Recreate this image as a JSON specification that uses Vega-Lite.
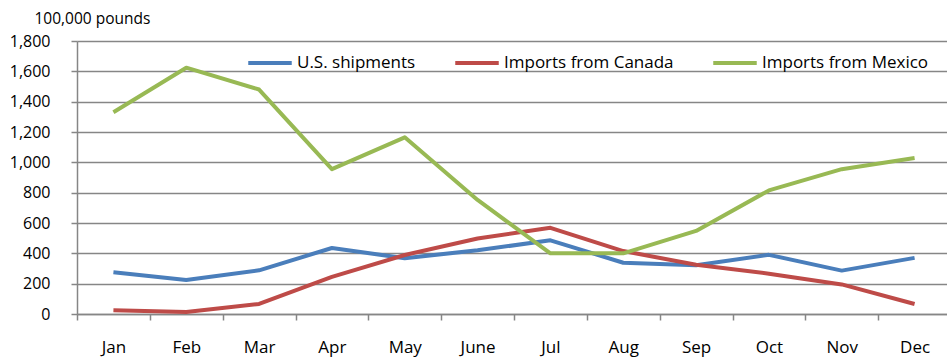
{
  "$schema": "https://vega.github.io/schema/vega-lite/v6.json",
  "width": 874,
  "height": 273,
  "autosize": "none",
  "padding": {"left": 77, "top": 41, "right": 0, "bottom": 46},
  "background": "white",
  "config": {
    "view": {"stroke": null},
    "font": "Open Sans",
    "axis": {"labelFont": "Open Sans", "titleFont": "Open Sans", "labelColor": "#000", "titleColor": "#000"}
  },
  "data": {
    "values": [
      {"month": "Jan", "series": "U.S. shipments", "value": 275},
      {"month": "Feb", "series": "U.S. shipments", "value": 224},
      {"month": "Mar", "series": "U.S. shipments", "value": 288},
      {"month": "Apr", "series": "U.S. shipments", "value": 435},
      {"month": "May", "series": "U.S. shipments", "value": 368},
      {"month": "June", "series": "U.S. shipments", "value": 420},
      {"month": "Jul", "series": "U.S. shipments", "value": 486},
      {"month": "Aug", "series": "U.S. shipments", "value": 338},
      {"month": "Sep", "series": "U.S. shipments", "value": 322},
      {"month": "Oct", "series": "U.S. shipments", "value": 390},
      {"month": "Nov", "series": "U.S. shipments", "value": 286},
      {"month": "Dec", "series": "U.S. shipments", "value": 370},
      {"month": "Jan", "series": "Imports from Canada", "value": 24},
      {"month": "Feb", "series": "Imports from Canada", "value": 13},
      {"month": "Mar", "series": "Imports from Canada", "value": 66},
      {"month": "Apr", "series": "Imports from Canada", "value": 245},
      {"month": "May", "series": "Imports from Canada", "value": 389},
      {"month": "June", "series": "Imports from Canada", "value": 498},
      {"month": "Jul", "series": "Imports from Canada", "value": 568},
      {"month": "Aug", "series": "Imports from Canada", "value": 415},
      {"month": "Sep", "series": "Imports from Canada", "value": 325},
      {"month": "Oct", "series": "Imports from Canada", "value": 266},
      {"month": "Nov", "series": "Imports from Canada", "value": 195},
      {"month": "Dec", "series": "Imports from Canada", "value": 66},
      {"month": "Jan", "series": "Imports from Mexico", "value": 1330},
      {"month": "Feb", "series": "Imports from Mexico", "value": 1624},
      {"month": "Mar", "series": "Imports from Mexico", "value": 1480},
      {"month": "Apr", "series": "Imports from Mexico", "value": 955},
      {"month": "May", "series": "Imports from Mexico", "value": 1165},
      {"month": "June", "series": "Imports from Mexico", "value": 752},
      {"month": "Jul", "series": "Imports from Mexico", "value": 400},
      {"month": "Aug", "series": "Imports from Mexico", "value": 400},
      {"month": "Sep", "series": "Imports from Mexico", "value": 548},
      {"month": "Oct", "series": "Imports from Mexico", "value": 815},
      {"month": "Nov", "series": "Imports from Mexico", "value": 955},
      {"month": "Dec", "series": "Imports from Mexico", "value": 1028}
    ]
  },
  "mark": {"type": "line", "strokeWidth": 4, "strokeJoin": "round", "strokeCap": "butt"},
  "encoding": {
    "x": {
      "field": "month",
      "type": "ordinal",
      "sort": ["Jan", "Feb", "Mar", "Apr", "May", "June", "Jul", "Aug", "Sep", "Oct", "Nov", "Dec"],
      "scale": {"type": "band", "paddingInner": 0, "paddingOuter": 0},
      "axis": {
        "title": null,
        "labelAngle": 0,
        "labelFontSize": 17,
        "labelPadding": 19,
        "domainColor": "#868686",
        "domainWidth": 1.5,
        "tickColor": "#868686",
        "tickWidth": 1.5,
        "tickSize": 6,
        "tickBand": "extent",
        "grid": false
      }
    },
    "y": {
      "field": "value",
      "type": "quantitative",
      "scale": {"domain": [0, 1800], "nice": false},
      "axis": {
        "values": [0, 200, 400, 600, 800, 1000, 1200, 1400, 1600, 1800],
        "format": ",d",
        "labelFontSize": 16,
        "labelPadding": 21,
        "domainColor": "#868686",
        "domainWidth": 1.5,
        "tickColor": "#868686",
        "tickWidth": 1.5,
        "tickSize": 6,
        "grid": true,
        "gridColor": "#868686",
        "gridWidth": 1.5,
        "title": "100,000 pounds",
        "titleAngle": 0,
        "titleFontSize": 15.5,
        "titleFontWeight": "normal",
        "titleAlign": "left",
        "titleBaseline": "middle",
        "titleX": -43,
        "titleY": -23
      }
    },
    "color": {
      "field": "series",
      "type": "nominal",
      "scale": {
        "domain": ["U.S. shipments", "Imports from Canada", "Imports from Mexico"],
        "range": ["#4A7EBB", "#BE4B48", "#98B954"]
      },
      "legend": {
        "title": null,
        "orient": "none",
        "direction": "horizontal",
        "legendX": 169,
        "legendY": -2,
        "symbolType": "stroke",
        "symbolSize": 1892,
        "symbolStrokeWidth": 4,
        "labelFontSize": 17,
        "labelFont": "Open Sans",
        "labelColor": "#000",
        "labelOffset": 3,
        "labelLimit": 400,
        "columnPadding": 31
      }
    }
  }
}
